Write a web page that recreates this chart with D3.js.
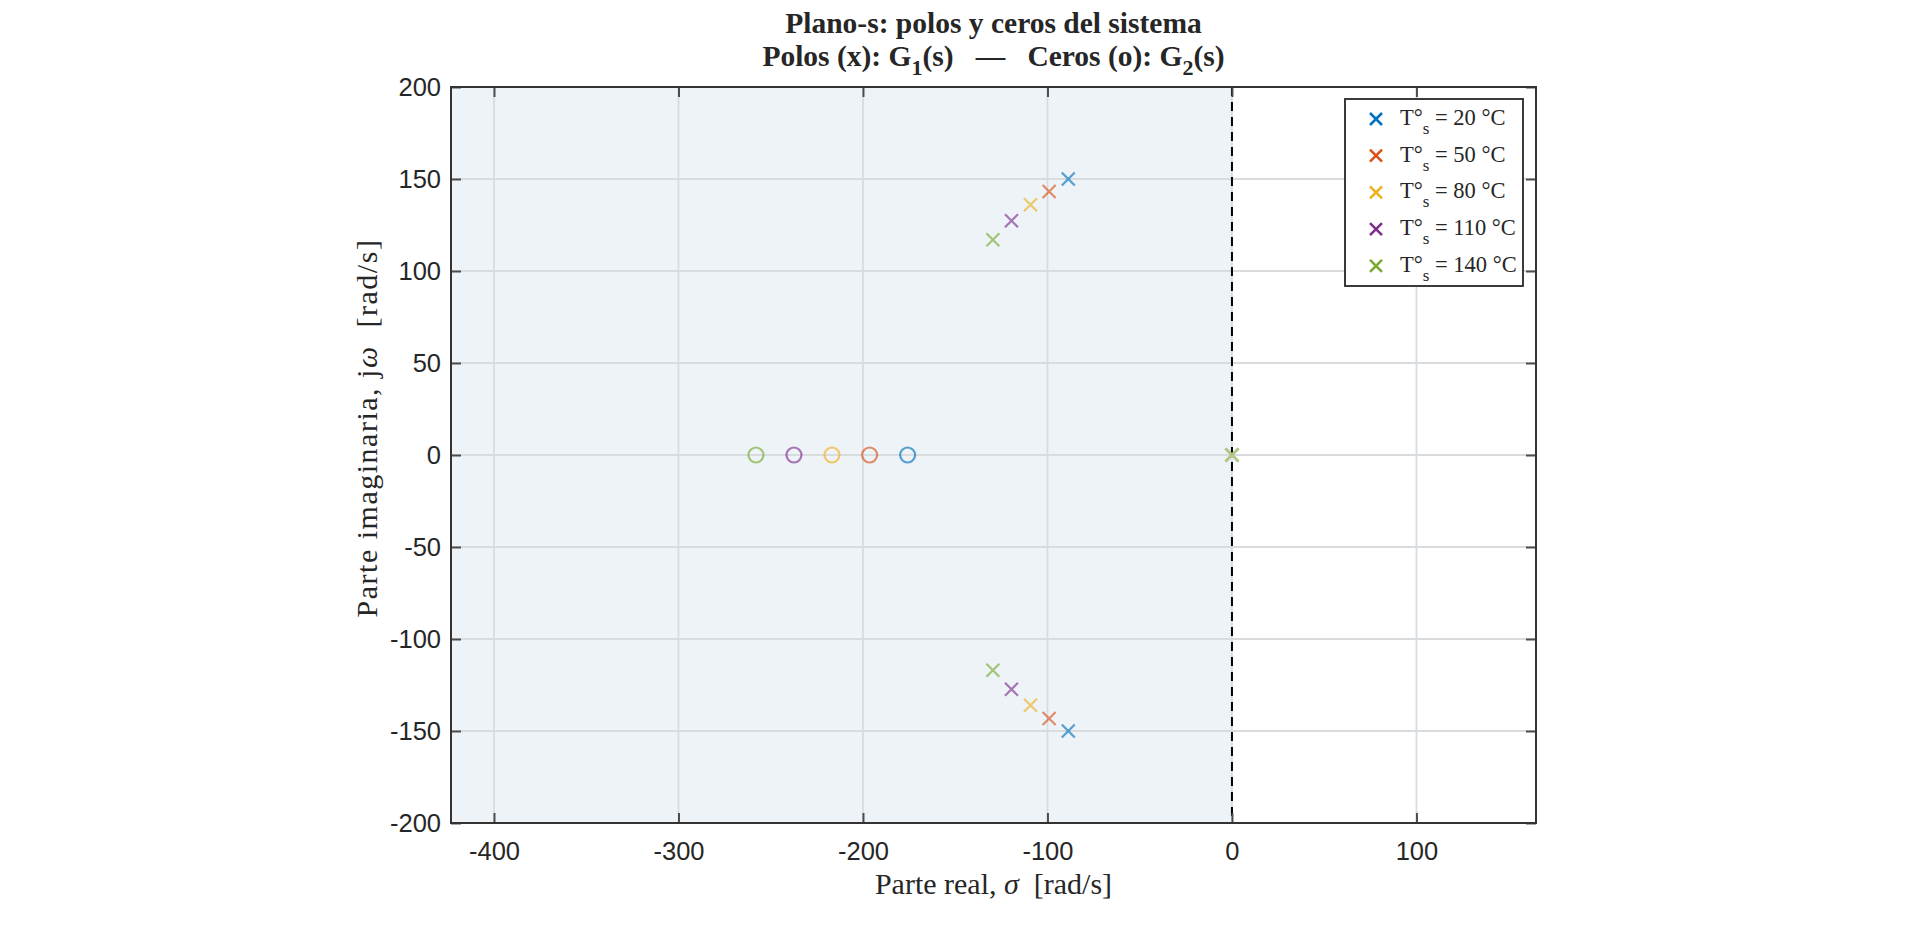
<!DOCTYPE html>
<html>
<head>
<meta charset="utf-8">
<script src="https://cdn.jsdelivr.net/npm/d3@7"></script>
<style>
  body { margin: 0; background: #ffffff; }
  svg text { fill: #262626; }
</style>
</head>
<body>
<div id="the_board"></div>
<script>
// temperatures of each case and matlab default colours
var temps = [20, 50, 80, 110, 140];
var colors = ["#0072BD", "#D95319", "#EDB120", "#7E2F8E", "#77AC30"];

// poles of G1(s): complex pair + pole at origin
var poleRe = [-88.7, -99.1, -109.2, -119.5, -129.6];
var poleIm = [150.0, 143.2, 136.0, 127.3, 117.0];
var originRe = [0, 0, 0, 0, 0];

// zeros of G2(s), on the real axis
var zeroRe = [-175.8, -196.4, -216.8, -237.4, -258.0];

// axis limits and ticks
var xLimits = [-423.3, 164.8];
var yLimits = [-200, 200];
var xTicks = [-400, -300, -200, -100, 0, 100];
var yTicks = [-200, -150, -100, -50, 0, 50, 100, 150, 200];

// set the dimensions and margins of the graph
var margin = {
    top: 87,
    right: 384,
    bottom: 103,
    left: 451
  },
  width_board = 1920 - margin.left - margin.right,
  height_board = 926 - margin.top - margin.bottom;

var svg_root = d3.select("#the_board")
  .append("svg")
  .attr("width", 1920)
  .attr("height", 926);

var svg_board = svg_root.append("g")
  .attr("transform", "translate(" + margin.left + "," + margin.top + ")");

var x = d3.scaleLinear().domain(xLimits).range([0, width_board]);
var y = d3.scaleLinear().domain(yLimits).range([height_board, 0]);

// stable half plane shading
svg_board.append("rect")
  .attr("x", 0)
  .attr("y", 0)
  .attr("width", x(0))
  .attr("height", height_board)
  .attr("fill", "#eef3f8");

// grid
svg_board.append("g")
  .selectAll("line")
  .data(xTicks)
  .enter()
  .append("line")
  .attr("x1", function(d) { return x(d); })
  .attr("x2", function(d) { return x(d); })
  .attr("y1", 0)
  .attr("y2", height_board)
  .attr("stroke", "#d9dcdf")
  .attr("stroke-width", 1.8);

svg_board.append("g")
  .selectAll("line")
  .data(yTicks)
  .enter()
  .append("line")
  .attr("y1", function(d) { return y(d); })
  .attr("y2", function(d) { return y(d); })
  .attr("x1", 0)
  .attr("x2", width_board)
  .attr("stroke", "#d9dcdf")
  .attr("stroke-width", 1.8);

// imaginary axis, dashed
svg_board.append("line")
  .attr("x1", x(0))
  .attr("x2", x(0))
  .attr("y1", 0)
  .attr("y2", height_board)
  .attr("stroke", "#000")
  .attr("stroke-width", 2)
  .attr("stroke-dasharray", "9,6");

// axes: inward ticks on all four sides (box on)
var tickLen = 10;
var fmt = function(d) { return String(d); }; // plain hyphen, like matlab
function styleAxis(g) {
  g.select(".domain").remove();
  g.selectAll(".tick line").attr("stroke", "#4d4d4d").attr("stroke-width", 2);
  g.selectAll(".tick text")
    .style("font-family", "'Liberation Sans', Arial, sans-serif")
    .style("font-size", "25.5px")
    .attr("fill", "#262626");
}

var xAxis = svg_board.append("g")
  .attr("transform", "translate(0," + height_board + ")")
  .call(d3.axisBottom(x).tickValues(xTicks).tickFormat(fmt)
    .tickSizeInner(-tickLen).tickSizeOuter(0).tickPadding(19));
styleAxis(xAxis);

svg_board.append("g")
  .call(d3.axisTop(x).tickValues(xTicks).tickFormat("")
    .tickSizeInner(-tickLen).tickSizeOuter(0))
  .call(styleAxis);

var yAxis = svg_board.append("g")
  .call(d3.axisLeft(y).tickValues(yTicks).tickFormat(fmt)
    .tickSizeInner(-tickLen).tickSizeOuter(0).tickPadding(10));
styleAxis(yAxis);

svg_board.append("g")
  .attr("transform", "translate(" + width_board + ",0)")
  .call(d3.axisRight(y).tickValues(yTicks).tickFormat("")
    .tickSizeInner(-tickLen).tickSizeOuter(0))
  .call(styleAxis);

// box
svg_board.append("rect")
  .attr("x", 0)
  .attr("y", 0)
  .attr("width", width_board)
  .attr("height", height_board)
  .attr("fill", "none")
  .attr("stroke", "#333")
  .attr("stroke-width", 2);

// cross marker path
function crossPath(h) {
  return "M" + (-h) + "," + (-h) + "L" + h + "," + h + "M" + (-h) + "," + h + "L" + h + "," + (-h);
}

// poles (x): upper and lower pair
var poles = [];
temps.forEach(function(t, i) {
  poles.push({ re: poleRe[i], im: poleIm[i], c: colors[i] });
  poles.push({ re: poleRe[i], im: -poleIm[i], c: colors[i] });
});

svg_board.selectAll(".pole")
  .data(poles)
  .enter()
  .append("path")
  .attr("class", "pole")
  .attr("transform", function(d) { return "translate(" + x(d.re) + "," + y(d.im) + ")"; })
  .attr("d", crossPath(6.5))
  .attr("stroke", function(d) { return d.c; })
  .attr("stroke-opacity", 0.65)
  .attr("stroke-width", 2.2)
  .attr("fill", "none");

// poles at the origin overlap; last one drawn covers the others
var origin = svg_board.selectAll(".origin")
  .data(originRe)
  .enter()
  .append("g")
  .attr("class", "origin")
  .attr("transform", function(d) { return "translate(" + x(d) + "," + y(0) + ")"; });
origin.append("path")
  .attr("d", crossPath(6.5))
  .attr("stroke", "#fff")
  .attr("stroke-width", 2.2);
origin.append("path")
  .attr("d", crossPath(6.5))
  .attr("stroke", function(d, i) { return colors[i]; })
  .attr("stroke-opacity", 0.65)
  .attr("stroke-width", 2.2);

// zeros (o)
svg_board.selectAll(".zero")
  .data(zeroRe)
  .enter()
  .append("circle")
  .attr("class", "zero")
  .attr("cx", function(d) { return x(d); })
  .attr("cy", y(0))
  .attr("r", 7.5)
  .attr("fill", "none")
  .attr("stroke", function(d, i) { return colors[i]; })
  .attr("stroke-opacity", 0.65)
  .attr("stroke-width", 2.2);

// legend
var legend = svg_root.append("g").attr("transform", "translate(1345,99)");
legend.append("rect")
  .attr("width", 178)
  .attr("height", 187)
  .attr("fill", "#fff")
  .attr("stroke", "#262626")
  .attr("stroke-width", 1.8);

var rows = legend.selectAll(".row")
  .data(temps)
  .enter()
  .append("g")
  .attr("class", "row")
  .attr("transform", function(d, i) { return "translate(0," + (20 + i * 36.7) + ")"; });

rows.append("path")
  .attr("transform", "translate(31,0)")
  .attr("d", crossPath(6))
  .attr("stroke", function(d, i) { return colors[i]; })
  .attr("stroke-width", 2.6);

var rowText = rows.append("text")
  .attr("x", 55)
  .attr("y", 6)
  .style("font-family", "'Liberation Serif', 'Times New Roman', serif")
  .style("font-size", "22.5px");
rowText.append("tspan").text("T°");
rowText.append("tspan").attr("dy", 9).style("font-size", "17px").text("s");
rowText.append("tspan").attr("dy", -9).text(function(d) { return "\u00a0= " + d + " °C"; });

// title
var cx = margin.left + width_board / 2;
var serif = "'Liberation Serif', 'Times New Roman', serif";
svg_root.append("text")
  .attr("x", cx)
  .attr("y", 33)
  .attr("text-anchor", "middle")
  .style("font-family", serif)
  .style("font-weight", "bold")
  .style("font-size", "29.5px")
  .text("Plano-s: polos y ceros del sistema");

var t2 = svg_root.append("text")
  .attr("x", cx)
  .attr("y", 66)
  .attr("text-anchor", "middle")
  .style("font-family", serif)
  .style("font-weight", "bold")
  .style("font-size", "29.5px");
t2.append("tspan").text("Polos (x): G");
t2.append("tspan").attr("dy", 9).style("font-size", "22px").text("1");
t2.append("tspan").attr("dy", -9).text("(s)\u00a0\u00a0\u00a0—\u00a0\u00a0\u00a0Ceros (o): G");
t2.append("tspan").attr("dy", 9).style("font-size", "22px").text("2");
t2.append("tspan").attr("dy", -9).text("(s)");

// axis labels
var xl = svg_root.append("text")
  .attr("x", cx)
  .attr("y", 894)
  .attr("text-anchor", "middle")
  .style("font-family", serif)
  .style("font-size", "30px");
xl.append("tspan").text("Parte real, ");
xl.append("tspan").style("font-style", "italic").text("σ");
xl.append("tspan").text("\u00a0\u00a0[rad/s]");

var yl = svg_root.append("text")
  .attr("transform", "translate(377,428) rotate(-90)")
  .attr("text-anchor", "middle")
  .style("font-family", serif)
  .style("font-size", "30px")
  .style("letter-spacing", "1.5px");
yl.append("tspan").text("Parte imaginaria, j");
yl.append("tspan").style("font-style", "italic").text("ω");
yl.append("tspan").text("\u00a0\u00a0[rad/s]");
</script>
</body>
</html>
